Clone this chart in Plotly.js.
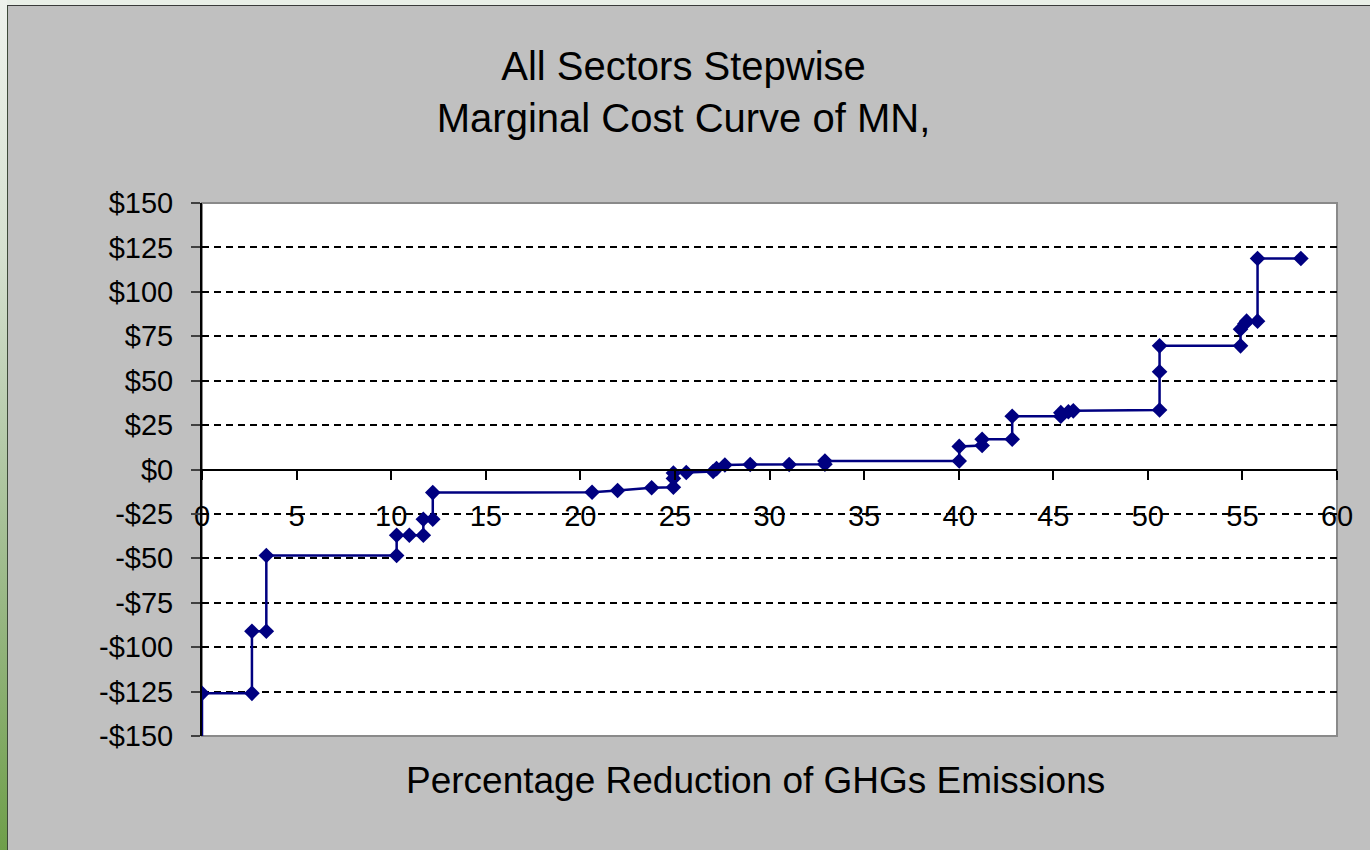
<!DOCTYPE html>
<html>
<head>
<meta charset="utf-8">
<script src="https://cdn.plot.ly/plotly-3.0.1.min.js"></script>
<style>
  html, body { margin: 0; padding: 0; width: 1370px; height: 850px; overflow: hidden; background: #e9efe7; }
  #strip { position: absolute; left: 0; top: 0; width: 7px; height: 850px;
           background: linear-gradient(to bottom, #eef2ec 0%, #d5e0cf 30%, #b8ccad 50%, #93b47d 75%, #6f9f4a 100%); }
  #edgeL { position: absolute; left: 7px; top: 5px; width: 1px; height: 845px; background: #3d4a38; }
  #edgeT { position: absolute; left: 7px; top: 5px; width: 1363px; height: 1px; background: #3a3a3a; }
  #chart { position: absolute; left: 8px; top: 6px; width: 1362px; height: 844px; }
</style>
</head>
<body>
<div id="strip"></div>
<div id="edgeL"></div>
<div id="edgeT"></div>
<div id="chart"></div>
<script>
// Percentage reduction of GHG emissions (x) and marginal cost in $ (y), stepwise points
const reductionPct = [0, 0, 2.64, 2.64, 3.40, 3.40, 10.29, 10.29, 10.96, 11.70, 11.70, 12.20, 12.20,
  20.62, 21.97, 23.77, 24.92, 24.92, 24.92, 25.60, 27.02, 27.20, 27.64, 28.98, 31.04, 32.93, 32.93,
  40.03, 40.03, 41.24, 41.24, 42.83, 42.83, 45.40, 45.40, 45.80, 46.06, 50.62, 50.62, 50.62,
  54.90, 54.90, 55.13, 55.22, 55.80, 55.80, 58.09];
const marginalCost = [-170, -126, -126, -91, -91, -48.4, -48.4, -37, -37, -37, -28, -28, -13,
  -12.8, -11.8, -10.3, -10, -5, -2, -1.7, -1.1, 0.5, 2.5, 2.8, 2.8, 3, 4.8,
  4.8, 13, 13.5, 17, 17, 30, 30, 32, 32.5, 33, 33.5, 55, 69.6,
  69.6, 79, 82, 83.5, 83.5, 118.8, 118.8];

const yTickVals = [150, 125, 100, 75, 50, 25, 0, -25, -50, -75, -100, -125, -150];
const yTickText = ["$150", "$125", "$100", "$75", "$50", "$25", "$0", "-$25", "-$50", "-$75", "-$100", "-$125", "-$150"];
const xTickVals = [0, 5, 10, 15, 20, 25, 30, 35, 40, 45, 50, 55, 60];

const chartTitle = "All Sectors Stepwise<br>Marginal Cost Curve of MN,";
const xTitle = "Percentage Reduction of GHGs Emissions";

const FONT = "Arial, 'Liberation Sans', sans-serif";

const trace = {
  x: reductionPct,
  y: marginalCost,
  type: "scatter",
  mode: "lines+markers",
  line: { color: "#000080", width: 2.5 },
  marker: { symbol: "diamond", size: 12, color: "#000080" },
  hoverinfo: "skip",
  showlegend: false
};

const layout = {
  width: 1362,
  height: 844,
  paper_bgcolor: "#c0c0c0",
  plot_bgcolor: "#ffffff",
  margin: { l: 194, r: 33, t: 197, b: 114 },
  font: { family: FONT, color: "#000000" },
  title: {
    text: chartTitle,
    font: { family: FONT, size: 40, color: "#000000" },
    x: 0.496, xref: "container", xanchor: "center",
    y: 0.912, yref: "container", yanchor: "top"
  },
  xaxis: {
    range: [0, 60],
    tickvals: xTickVals,
    ticks: "outside", ticklen: 9, tickcolor: "#000000", tickwidth: 2,
    showline: true, linecolor: "#000000", linewidth: 2,
    showgrid: false, zeroline: false,
    anchor: "free", position: 0.5,
    ticklabelstandoff: 12,
    tickfont: { family: FONT, size: 29, color: "#000000" },
    fixedrange: true
  },
  yaxis: {
    range: [-150, 150],
    tickvals: yTickVals,
    ticktext: yTickText,
    ticks: "outside", ticklen: 9, tickcolor: "#404040", tickwidth: 2,
    showline: true, linecolor: "#000000", linewidth: 2,
    showgrid: true, gridcolor: "#000000", gridwidth: 2, griddash: "7px,5px",
    zeroline: false,
    ticklabelstandoff: 12,
    tickfont: { family: FONT, size: 29, color: "#000000" },
    fixedrange: true
  },
  shapes: [
    { type: "rect", xref: "paper", yref: "paper", x0: 0, x1: 1, y0: 0, y1: 1,
      line: { color: "#8a8a8a", width: 2 }, fillcolor: "rgba(0,0,0,0)", layer: "below" }
  ],
  annotations: [
    { text: xTitle, xref: "paper", yref: "paper", x: 0.488, y: -0.084,
      xanchor: "center", yanchor: "middle", showarrow: false,
      font: { family: FONT, size: 37, color: "#000000" } }
  ]
};

Plotly.newPlot("chart", [trace], layout, { staticPlot: true, displayModeBar: false });
</script>
</body>
</html>
